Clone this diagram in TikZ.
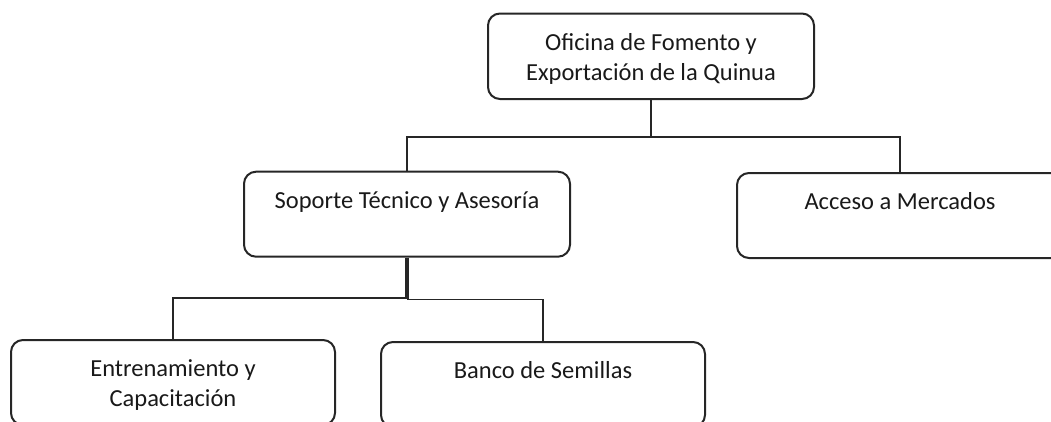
\documentclass[tikz,border=0pt]{standalone}
\usepackage{fontspec}
\setmainfont{Carlito}
\begin{document}
\begin{tikzpicture}[x=1pt,y=-1pt,
  box/.style={draw=black!85, line width=2pt, rounded corners=12pt, rectangle,
    inner sep=0pt, minimum width=326pt, minimum height=85pt},
  txt/.style={font=\fontsize{24.5}{29.5}\selectfont, align=center, anchor=base, inner sep=0pt, text=black!90},
  link/.style={draw=black!85, line width=1.8pt}]
\useasboundingbox (0,0) rectangle (1051,421);
\clip (0,0) rectangle (1051,421);
% boxes
\node[box, minimum height=85.5pt] (top) at (651,56.25) {};
\node[box] (sop) at (407,214.2) {};
\node[box] (acc) at (900,215.5) {};
\node[box, minimum width=324pt] (ent) at (173,382.5) {};
\node[box, minimum width=324pt] (ban) at (543,384.5) {};
% texts (base anchor = baseline of last line)
\node[txt] (ttop) at (651,80) {Oficina de Fomento y\\Exportación de la Quinua};
\node[txt] (tsop) at (407,208.3) {Soporte Técnico y Asesoría};
\node[txt] (tacc) at (900,209.5) {Acceso a Mercados};
\node[txt] (tent) at (173,406) {Entrenamiento y\\Capacitación};
\node[txt] (tban) at (543,378.3) {Banco de Semillas};
% connectors
\coordinate (j1) at (651,137);
\coordinate (j2) at (405.8,298.3);
\coordinate (j3) at (408.2,299.5);
\draw[link] (top.south) -- (j1) -| (sop.north);
\draw[link] (j1) -| (acc.north);
\draw[link] ([xshift=-1.2pt]sop.south) -- (j2) -| (ent.north);
\draw[link] ([xshift=1.2pt]sop.south) -- (j3) -| (ban.north);
\end{tikzpicture}
\end{document}
